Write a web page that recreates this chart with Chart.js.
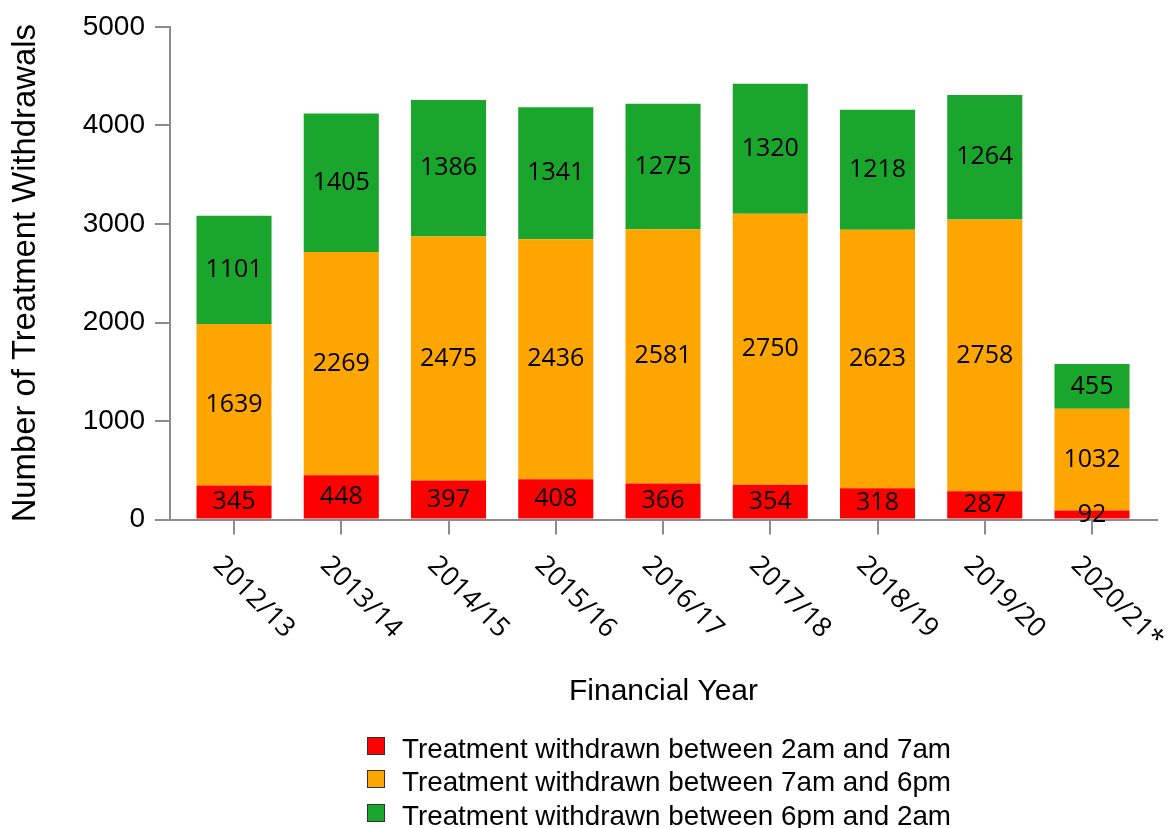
<!DOCTYPE html>
<html>
<head>
<meta charset="utf-8">
<script src="https://cdn.jsdelivr.net/npm/chart.js@4.4.1/dist/chart.umd.min.js"></script>
<style>
  html, body { margin: 0; padding: 0; background: #fff; }
  #wrap { position: relative; width: 1169px; height: 828px; }
  #legend { position: absolute; left: 367px; top: 731.6px; font-family: "Liberation Sans", Arial, sans-serif; font-size: 27.8px; color: #000; }
  .row { display: flex; align-items: flex-start; height: 33.5px; line-height: 33.5px; white-space: nowrap; }
  .box { width: 16px; height: 16px; border: 1px solid #333; margin-top: 5.4px; margin-right: 17px; flex: none; }
</style>
</head>
<body>
<div id="wrap">
  <canvas id="c" width="1169" height="828"></canvas>
  <div id="legend"></div>
</div>
<script>
const categories = ["2012/13", "2013/14", "2014/15", "2015/16", "2016/17", "2017/18", "2018/19", "2019/20", "2020/21*"];
const seriesNames = [
  "Treatment withdrawn between 2am and 7am",
  "Treatment withdrawn between 7am and 6pm",
  "Treatment withdrawn between 6pm and 2am"
];
const night = [345, 448, 397, 408, 366, 354, 318, 287, 92];
const day = [1639, 2269, 2475, 2436, 2581, 2750, 2623, 2758, 1032];
const evening = [1101, 1405, 1386, 1341, 1275, 1320, 1218, 1264, 455];
const yTicks = [0, 1000, 2000, 3000, 4000, 5000];
const colors = ["#ff0000", "#ffa500", "#1aa52d"];

const AXIS = "#8c8c8c";
const toPts = arr => arr.map((v, i) => ({ x: i, y: v }));

const valueLabels = {
  id: "valueLabels",
  afterDatasetsDraw(chart) {
    const ctx = chart.ctx;
    ctx.save();
    ctx.font = '25px "Open Sans"';
    ctx.fillStyle = "#000";
    ctx.textAlign = "center";
    ctx.textBaseline = "middle";
    chart.data.datasets.forEach((ds, di) => {
      const meta = chart.getDatasetMeta(di);
      meta.data.forEach((bar, j) => {
        const v = ds.data[j].y;
        ctx.fillText(String(v), bar.x, (bar.y + bar.base) / 2);
      });
    });
    ctx.restore();
  }
};

const rotatedXLabels = {
  id: "rotatedXLabels",
  afterDraw(chart) {
    const ctx = chart.ctx;
    const xs = chart.scales.x;
    const y0 = chart.chartArea.bottom;
    ctx.save();
    ctx.font = '27px "Open Sans"';
    ctx.fillStyle = "#000";
    ctx.textAlign = "left";
    ctx.textBaseline = "alphabetic";
    categories.forEach((lab, i) => {
      const px = xs.getPixelForValue(i);
      ctx.save();
      ctx.translate(px - 22, y0 + 47);
      ctx.rotate(Math.PI / 4);
      ctx.fillText(lab, 0, 0);
      ctx.restore();
    });
    ctx.restore();
  }
};

const chart = new Chart(document.getElementById("c"), {
  type: "bar",
  data: {
    datasets: [
      { label: seriesNames[0], data: toPts(night), backgroundColor: colors[0] },
      { label: seriesNames[1], data: toPts(day), backgroundColor: colors[1] },
      { label: seriesNames[2], data: toPts(evening), backgroundColor: colors[2] }
    ]
  },
  options: {
    responsive: false,
    animation: false,
    events: [],
    layout: { padding: { left: 0, right: 12, top: 27, bottom: 0 } },
    datasets: { bar: { categoryPercentage: 1.0, barPercentage: 0.7, borderWidth: 0 } },
    plugins: {
      legend: { display: false },
      tooltip: { enabled: false }
    },
    scales: {
      x: {
        type: "linear",
        stacked: true,
        offset: false,
        min: -0.597,
        max: 8.606,
        afterFit: s => { s.height = 828 - 519.5; },
        ticks: { display: false, stepSize: 1, includeBounds: false, autoSkip: false },
        grid: { offset: false, drawOnChartArea: false, drawTicks: true, tickLength: 15, color: AXIS, lineWidth: 2 },
        border: { display: true, color: AXIS, width: 2 },
        title: {
          display: true,
          text: "Financial Year",
          color: "#000",
          font: { family: '"Liberation Sans", Arial, sans-serif', size: 30 },
          padding: { top: 0, bottom: 118 }
        }
      },
      y: {
        stacked: true,
        min: 0,
        max: 5000,
        afterFit: s => { s.width = 170; },
        afterBuildTicks: s => { s.ticks = yTicks.map(v => ({ value: v })); },
        ticks: {
          stepSize: 1000,
          padding: 10,
          color: "#000",
          font: { family: '"Liberation Sans", Arial, sans-serif', size: 28 },
          callback: v => String(v)
        },
        grid: { drawOnChartArea: false, drawTicks: true, tickLength: 15, color: AXIS, lineWidth: 2 },
        border: { display: true, color: AXIS, width: 2 },
        title: {
          display: true,
          text: "Number of Treatment Withdrawals",
          color: "#000",
          font: { family: '"Liberation Sans", Arial, sans-serif', size: 32.8 },
          padding: { top: 6, bottom: 0 }
        }
      }
    }
  },
  plugins: [valueLabels, rotatedXLabels]
});

// HTML legend built from the chart's datasets
const legendEl = document.getElementById("legend");
chart.data.datasets.forEach(ds => {
  const row = document.createElement("div");
  row.className = "row";
  const box = document.createElement("span");
  box.className = "box";
  box.style.background = ds.backgroundColor;
  const txt = document.createElement("span");
  txt.textContent = ds.label;
  row.appendChild(box);
  row.appendChild(txt);
  legendEl.appendChild(row);
});
</script>
</body>
</html>
